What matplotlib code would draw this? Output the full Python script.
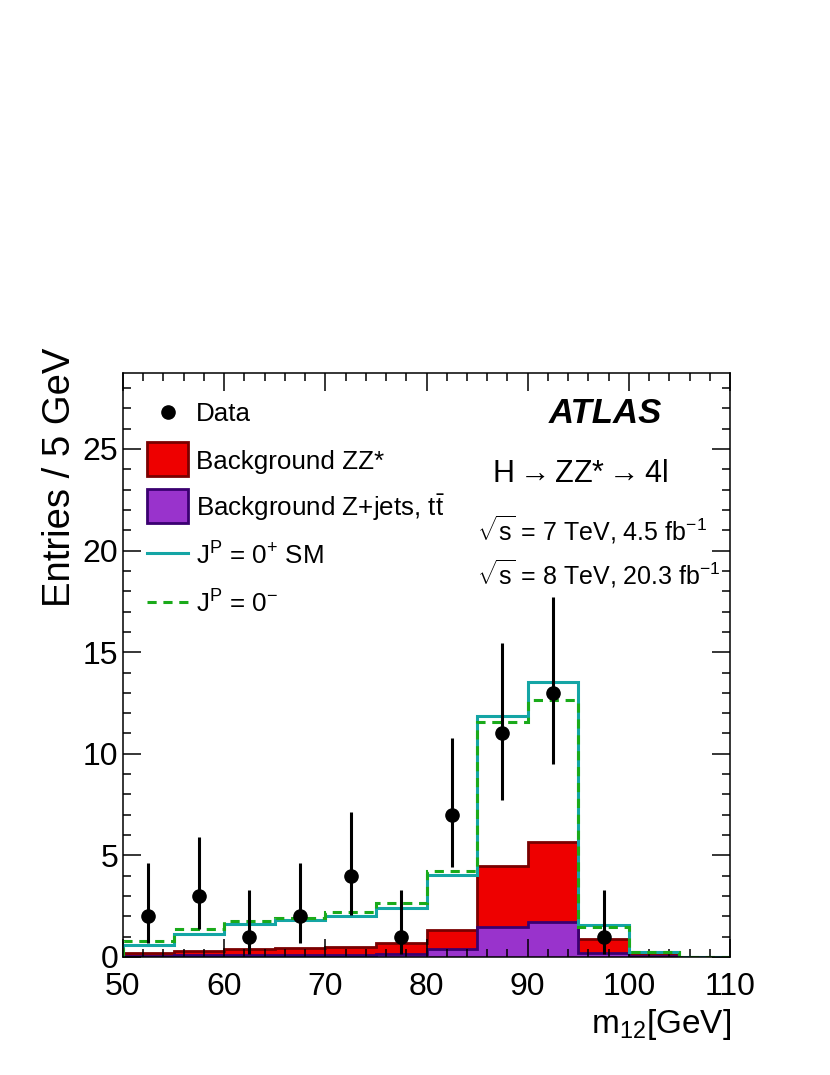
import matplotlib
matplotlib.use('Agg')
import matplotlib.pyplot as plt
import numpy as np
from matplotlib.patches import Rectangle
from matplotlib.lines import Line2D
from matplotlib.ticker import MultipleLocator

plt.rcParams['font.family'] = ['Liberation Sans', 'DejaVu Sans']
plt.rcParams['mathtext.fontset'] = 'custom'
plt.rcParams['mathtext.rm'] = 'Liberation Sans'
plt.rcParams['mathtext.it'] = 'Liberation Sans:italic'
plt.rcParams['mathtext.bf'] = 'Liberation Sans:bold'

# ---------------- data ----------------
bin_edges = [50, 55, 60, 65, 70, 75, 80, 85, 90, 95, 100, 105, 110]
data_counts = [2, 3, 1, 2, 4, 1, 7, 11, 13, 1, 0, 0]
data_err_low = [1.29, 1.63, 0.83, 1.29, 1.91, 0.83, 2.58, 3.28, 3.50, 0.83, 0, 0]
data_err_high = [2.64, 2.92, 2.30, 2.64, 3.16, 2.30, 3.77, 4.47, 4.70, 2.30, 0, 0]
bkg_zjets = [0.06, 0.08, 0.10, 0.10, 0.12, 0.17, 0.38, 1.49, 1.74, 0.22, 0.05, 0.0]
bkg_zz = [0.16, 0.22, 0.30, 0.32, 0.39, 0.50, 0.97, 2.99, 3.90, 0.68, 0.13, 0.0]
pred_0plus = [0.59, 1.11, 1.62, 1.84, 2.03, 2.43, 4.06, 11.86, 13.55, 1.59, 0.26, 0.02]
pred_0minus = [0.80, 1.36, 1.79, 1.93, 2.20, 2.67, 4.23, 11.58, 12.65, 1.49, 0.24, 0.01]

RED = '#EE0000'
RED_EDGE = '#7A0000'
PURPLE = '#9933CC'
PURPLE_EDGE = '#3A0070'
CYAN = '#14A5A5'
GREEN = '#1AAA1A'

W, H = 830, 1075
fig = plt.figure(figsize=(W / 100, H / 100), dpi=100)
ax = fig.add_axes([123 / W, 118 / H, 607 / W, 584 / H])

edges = np.array(bin_edges, dtype=float)
zj = np.array(bkg_zjets)
zz = np.array(bkg_zz)
tot = zj + zz

# stacked backgrounds
ax.stairs(tot, edges, fill=True, facecolor=RED, edgecolor='none', zorder=1)
ax.stairs(tot, edges, fill=False, baseline=0, color=RED_EDGE, lw=2, zorder=1.1)
ax.stairs(zj, edges, fill=True, facecolor=PURPLE, edgecolor='none', zorder=1.2)
ax.stairs(zj, edges, fill=False, baseline=0, color=PURPLE_EDGE, lw=2, zorder=1.3)

# signal hypotheses
ax.stairs(np.array(pred_0plus), edges, fill=False, baseline=0, color=CYAN, lw=2.2, zorder=2)
ax.stairs(np.array(pred_0minus), edges, fill=False, baseline=0, color=GREEN, lw=2.2,
          linestyle=(0, (3, 2.2)), zorder=2.1)

# data
centers = 0.5 * (edges[:-1] + edges[1:])
dc = np.array(data_counts, dtype=float)
m = dc > 0
ax.errorbar(centers[m], dc[m],
            yerr=[np.array(data_err_low)[m], np.array(data_err_high)[m]],
            fmt='o', color='black', ms=9.5, elinewidth=2.2, capsize=0, zorder=3)

ax.set_xlim(50, 110)
ax.set_ylim(0, 28.74)
ax.xaxis.set_major_locator(MultipleLocator(10))
ax.xaxis.set_minor_locator(MultipleLocator(2))
ax.yaxis.set_major_locator(MultipleLocator(5))
ax.yaxis.set_minor_locator(MultipleLocator(1))
ax.tick_params(which='both', direction='in', top=True, right=True, width=1.1)
ax.tick_params(which='major', length=13)
ax.tick_params(which='minor', length=6)
ax.tick_params(axis='x', which='major', labelsize=23, pad=10.5)
ax.tick_params(axis='y', which='major', labelsize=23, pad=3.5)
for s in ax.spines.values():
    s.set_linewidth(1.1)

def fx(px):
    return px / W

def fy(py):
    return 1 - py / H

# axis titles
fig.text(fx(60), fy(348), 'Entries / 5 GeV', rotation=90, ha='center', va='top', fontsize=27.5)
fig.text(fx(731), fy(1033), r'm$_{12}$[GeV]', ha='right', va='baseline', fontsize=24)

# legend (manual)
fig.add_artist(Line2D([fx(168)], [fy(412)], marker='o', ms=9.5, color='black',
                      transform=fig.transFigure))
fig.add_artist(Rectangle((fx(147), fy(476)), 41 / W, 34 / H, transform=fig.transFigure,
                         facecolor=RED, edgecolor=RED_EDGE, lw=2))
fig.add_artist(Rectangle((fx(147), fy(523)), 41 / W, 34 / H, transform=fig.transFigure,
                         facecolor=PURPLE, edgecolor=PURPLE_EDGE, lw=2))
fig.add_artist(Line2D([fx(147), fx(188)], [fy(553), fy(553)], color=CYAN, lw=2.2,
                      transform=fig.transFigure))
fig.add_artist(Line2D([fx(147), fx(188)], [fy(602), fy(602)], color=GREEN, lw=2.2,
                      linestyle=(0, (3, 2.2)), transform=fig.transFigure))
leg_fs = 18.7
fig.text(fx(196), fy(421), 'Data', fontsize=leg_fs, va='baseline')
fig.text(fx(196), fy(469), 'Background ZZ*', fontsize=leg_fs, va='baseline')
fig.text(fx(196), fy(516), r'Background Z+jets, t$\bar{\mathregular{t}}$', fontsize=leg_fs, va='baseline')
fig.text(fx(196), fy(565), r'J$^{\mathregular{P}}$ = 0$^{\mathregular{+}}$ SM', fontsize=leg_fs, va='baseline')
fig.text(fx(196), fy(613), r'J$^{\mathregular{P}}$ = 0$^{\mathregular{-}}$', fontsize=leg_fs, va='baseline')

# labels
fig.text(fx(662), fy(423), 'ATLAS', fontsize=25, fontweight='bold', fontstyle='italic',
         ha='right', va='baseline')
fig.text(fx(492), fy(482), r'H$\rightarrow$ZZ*$\rightarrow$4l', fontsize=22, ha='left', va='baseline')
fig.text(fx(477), fy(541), r'$\sqrt{\mathregular{s}}$ = 7 TeV, 4.5 fb$^{\mathregular{-1}}$',
         fontsize=18, ha='left', va='baseline')
fig.text(fx(477), fy(584), r'$\sqrt{\mathregular{s}}$ = 8 TeV, 20.3 fb$^{\mathregular{-1}}$',
         fontsize=18, ha='left', va='baseline')

fig.savefig('out.png', dpi=100)
